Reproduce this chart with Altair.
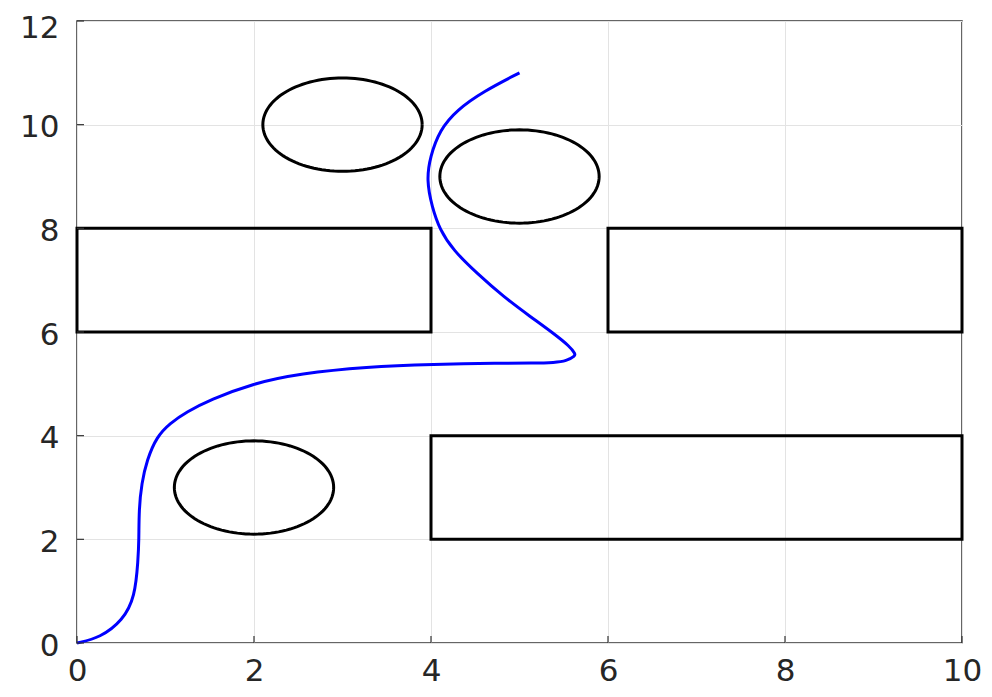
import altair as alt
import pandas as pd
import numpy as np

# Blue path
path_x = [0.00, 0.26, 0.52, 0.655, 0.69, 0.70, 0.70, 0.73, 0.79, 0.90, 1.05, 1.24, 1.50,
          1.99, 2.52, 3.27, 4.03, 4.78, 5.15, 5.40, 5.53, 5.63, 5.63, 5.57, 5.38, 5.12, 4.82,
          4.52, 4.25, 4.10, 4.01, 3.95, 3.99, 4.10, 4.29, 4.59, 5.00]
path_y = [0.00, 0.10, 0.44, 0.89, 1.60, 1.99, 2.57, 3.08, 3.53, 3.98, 4.24, 4.46, 4.69,
          5.01, 5.20, 5.33, 5.38, 5.40, 5.40, 5.41, 5.44, 5.54, 5.58, 5.72, 5.98, 6.30, 6.68,
          7.13, 7.58, 7.97, 8.42, 8.93, 9.38, 9.90, 10.28, 10.64, 11.00]

# Rectangular obstacles
rect_x1 = [0, 6, 4]
rect_x2 = [4, 10, 10]
rect_y1 = [6, 6, 2]
rect_y2 = [8, 8, 4]

# Circular obstacles
circ_cx = [3, 5, 2]
circ_cy = [10, 9, 3]
circ_r = [0.9, 0.9, 0.9]

tick_x = [0, 2, 4, 6, 8, 10]
tick_y = [0, 2, 4, 6, 8, 10, 12]

W, H = 885, 622

path_df = pd.DataFrame({"x": path_x, "y": path_y, "o": range(len(path_x))})
rect_df = pd.DataFrame({"x1": rect_x1, "x2": rect_x2, "y1": rect_y1, "y2": rect_y2})

ang = np.linspace(0, 2 * np.pi, 121)
rows = []
for i, (cx, cy, r) in enumerate(zip(circ_cx, circ_cy, circ_r)):
    for k, a in enumerate(ang):
        rows.append({"id": i, "o": k, "x": cx + r * np.cos(a), "y": cy + r * np.sin(a)})
circ_df = pd.DataFrame(rows)

xs = alt.Scale(domain=[0, 10], nice=False, zero=False)
ys = alt.Scale(domain=[0, 12], nice=False, zero=False)

label_kw = dict(labelFont="DejaVu Sans", labelColor="#262626", labelFlush=False,
                ticks=False, domain=False, grid=True, gridColor="#e3e3e3", gridWidth=1)

xaxis = alt.Axis(values=tick_x, labelPadding=13, labelFontSize=31, **label_kw)
yaxis = alt.Axis(values=tick_y, labelPadding=18, labelFontSize=31,
                 labelOffset={"condition": {"test": "datum.value === 12", "value": 7}, "value": 3},
                 **label_kw)

rects = alt.Chart(rect_df).mark_rect(fill=None, stroke="black", strokeWidth=3).encode(
    x=alt.X("x1:Q", scale=xs, axis=xaxis, title=None),
    x2="x2:Q",
    y=alt.Y("y1:Q", scale=ys, axis=yaxis, title=None),
    y2="y2:Q",
)

circles = alt.Chart(circ_df).mark_line(color="black", strokeWidth=3).encode(
    x=alt.X("x:Q", scale=xs, axis=xaxis, title=None),
    y=alt.Y("y:Q", scale=ys, axis=yaxis, title=None),
    detail="id:N",
    order="o:Q",
)

path = alt.Chart(path_df).mark_line(color="#0000ff", strokeWidth=3, interpolate="basis").encode(
    x=alt.X("x:Q", scale=xs, axis=xaxis, title=None),
    y=alt.Y("y:Q", scale=ys, axis=yaxis, title=None),
    order="o:Q",
)

xt = alt.Chart(pd.DataFrame({"v": tick_x})).mark_rule(color="#333333", strokeWidth=1.2).encode(
    x=alt.X("v:Q", scale=xs, axis=xaxis, title=None),
    y=alt.value(H),
    y2=alt.value(H - 7),
)
yt = alt.Chart(pd.DataFrame({"v": tick_y})).mark_rule(color="#333333", strokeWidth=1.2).encode(
    y=alt.Y("v:Q", scale=ys, axis=yaxis, title=None),
    x=alt.value(0),
    x2=alt.value(7),
)

chart = alt.layer(rects, circles, path, xt, yt).properties(
    width=W,
    height=H,
    autosize=alt.AutoSizeParams(type="none"),
    padding={"left": 69, "top": 13, "right": 22, "bottom": 46},
).configure_view(stroke="#333333", strokeWidth=1.5)

chart.save("out.html", embed_options={"renderer": "svg", "actions": False})
